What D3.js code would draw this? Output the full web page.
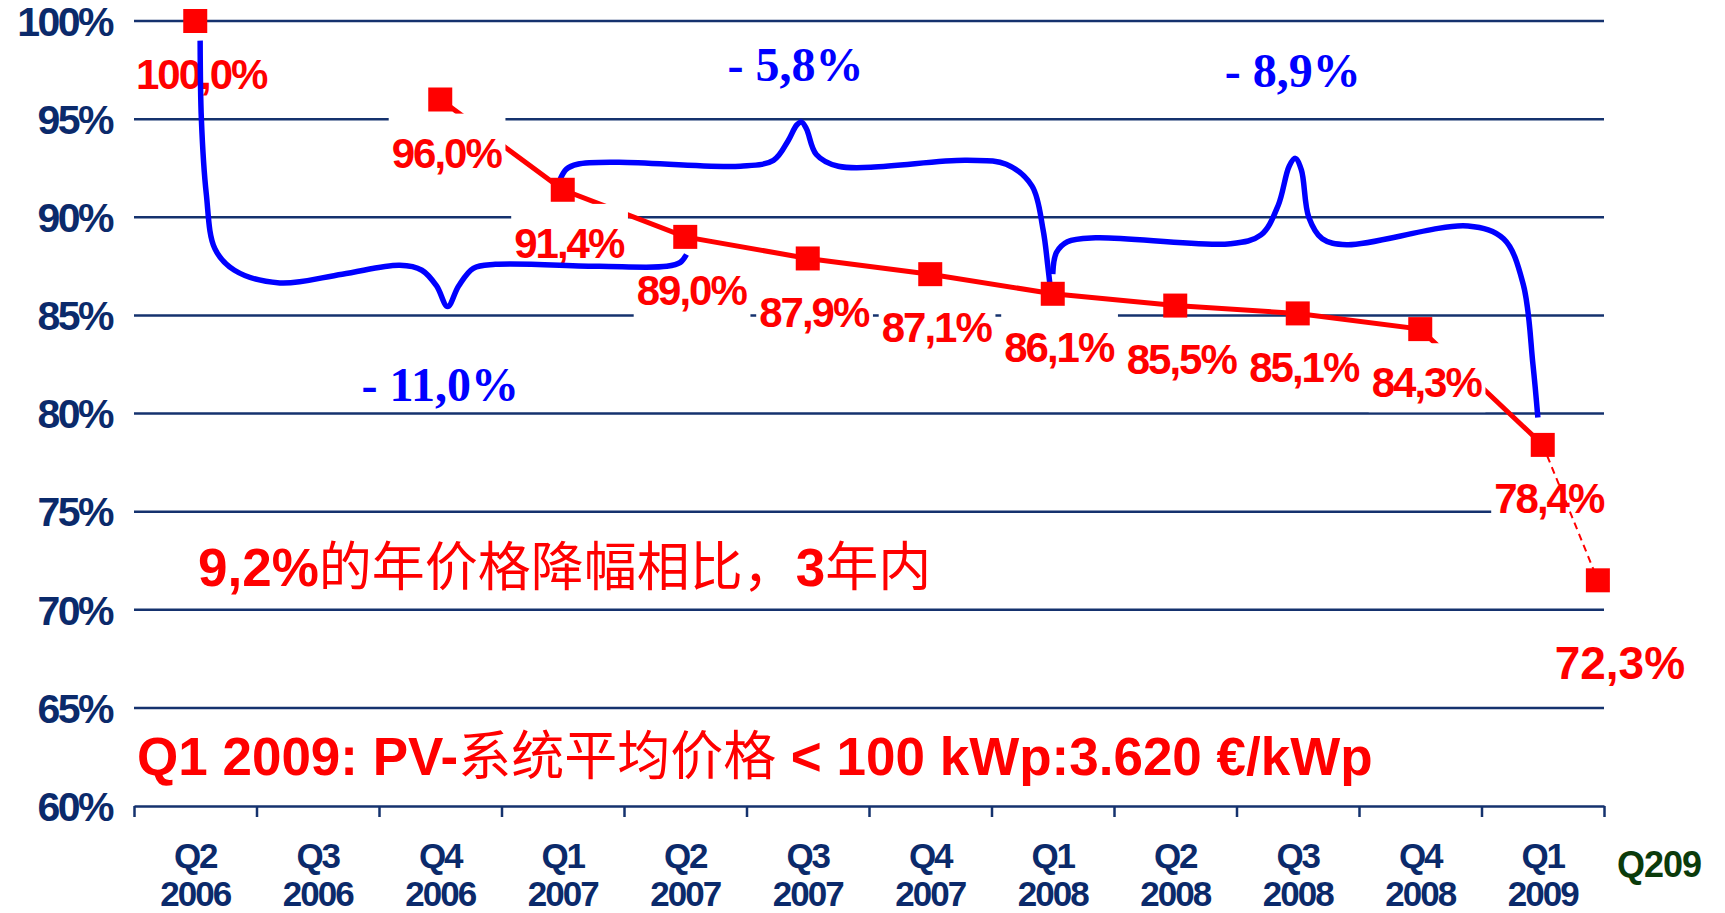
<!DOCTYPE html>
<html>
<head>
<meta charset="utf-8">
<script src="https://cdn.jsdelivr.net/npm/d3@7"></script>
<style>
  body { margin: 0; background: #fff; }
</style>
</head>
<body>
<script>
//chart size
var w = 1725, h = 913;

//categories and values
var quarters = ["Q2", "Q3", "Q4", "Q1", "Q2", "Q3", "Q4", "Q1", "Q2", "Q3", "Q4", "Q1"];
var years = ["2006", "2006", "2006", "2007", "2007", "2007", "2007", "2008", "2008", "2008", "2008", "2009"];
var values = [100, null, 96.0, 91.4, 89.0, 87.9, 87.1, 86.1, 85.5, 85.1, 84.3, 78.4];
var valueLabels = ["100,0%", "", "96,0%", "91,4%", "89,0%", "87,9%", "87,1%", "86,1%", "85,5%", "85,1%", "84,3%", "78,4%"];
//forecast point Q2 2009 (drawn right at the axis end)
var forecastPos = 11.45, forecastValue = 71.5, forecastLabel = "72,3%", forecastName = "Q209";
var yTicks = [60, 65, 70, 75, 80, 85, 90, 95, 100];

//braces, in (category index, percent) space
var brace1 = [[0.04,99.0],[0.05,95],[0.09,91.2],[0.16,88.4],[0.32,87.3],[0.69,86.65],[1.2,87.1],[1.67,87.55],[1.85,87.3],[1.97,86.5],[2.06,85.45],[2.15,86.5],[2.27,87.4],[2.45,87.6],[3.3,87.5],[3.85,87.5],[3.96,87.7],[4.01,88.1]];
var brace2 = [[2.98,91.95],[3.03,92.45],[3.12,92.7],[3.45,92.8],[4.45,92.6],[4.72,92.9],[4.84,93.9],[4.91,94.7],[4.95,94.85],[4.99,94.5],[5.07,93.2],[5.25,92.6],[6.3,92.9],[6.62,92.7],[6.83,91.6],[6.92,89.4],[6.96,87.5],[6.98,86.4]];
var brace3 = [[7.0,87.1],[7.03,88.2],[7.12,88.75],[7.35,88.95],[8.45,88.65],[8.7,89.1],[8.84,90.6],[8.93,92.6],[8.98,93.0],[9.03,92.4],[9.09,90.0],[9.2,88.9],[9.4,88.6],[10.39,89.55],[10.68,88.9],[10.84,86.6],[10.92,82.5],[10.96,79.8]];
var braceLabels = [
    {text: "- 11,0%", pos: 2.0, val: 81.5},
    {text: "- 5,8%", pos: 4.9, val: 97.8},
    {text: "- 8,9%", pos: 8.96, val: 97.5}
];

var navy = "#0b2a6b", red = "#ff0000", blue = "#0000ff";
var latin = "'Liberation Sans', Arial, sans-serif";
var cjk = "'Noto Sans CJK SC', sans-serif";

window.onload = function(){

    var svg = d3.select("body")
        .append("svg")
        .attr("width", w)
        .attr("height", h);

    var x = d3.scaleLinear().domain([-0.5, 11.5]).range([134, 1604]);
    var y = d3.scaleLinear().domain([60, 100]).range([806, 21]);

    //gridlines
    svg.append("g")
        .selectAll("line")
        .data(yTicks.slice(1))
        .enter()
        .append("line")
        .attr("x1", x(-0.5))
        .attr("x2", x(11.5))
        .attr("y1", function(d){ return y(d); })
        .attr("y2", function(d){ return y(d); })
        .style("stroke", "#15326e")
        .style("stroke-width", 2.5);

    //y labels
    svg.append("g")
        .selectAll("text")
        .data(yTicks)
        .enter()
        .append("text")
        .attr("x", 112)
        .attr("y", function(d){ return y(d); })
        .attr("dy", "0.36em")
        .attr("text-anchor", "end")
        .style("font-family", latin)
        .style("font-weight", "bold")
        .style("font-size", "41px")
        .style("letter-spacing", "-2.5px")
        .style("fill", navy)
        .text(function(d){ return d + "%"; });

    //x axis with ticks between categories
    var xAxis = d3.axisBottom(x)
        .tickValues(d3.range(-0.5, 12, 1))
        .tickSize(11)
        .tickSizeOuter(0)
        .tickFormat("");
    var ax = svg.append("g")
        .attr("transform", "translate(0," + y(60) + ")")
        .call(xAxis);
    ax.selectAll("path, line").style("stroke", "#15326e").style("stroke-width", 2.5);

    var xl = svg.append("g")
        .selectAll("g")
        .data(quarters)
        .enter()
        .append("text")
        .attr("text-anchor", "middle")
        .style("font-family", latin)
        .style("font-weight", "bold")
        .style("font-size", "35px")
        .style("letter-spacing", "-2px")
        .style("fill", navy);
    xl.append("tspan")
        .attr("x", function(d, i){ return x(i); })
        .attr("y", 868)
        .text(function(d){ return d; });
    xl.append("tspan")
        .attr("x", function(d, i){ return x(i); })
        .attr("y", 906)
        .text(function(d, i){ return years[i]; });

    svg.append("text")
        .attr("x", 1659)
        .attr("y", 877)
        .attr("text-anchor", "middle")
        .style("font-family", latin)
        .style("font-weight", "bold")
        .style("font-size", "36px")
        .style("letter-spacing", "-1px")
        .style("fill", "#0b3b0b")
        .text(forecastName);

    //red price line
    var pts = values.map(function(v, i){ return {i: i, v: v, label: valueLabels[i]}; });
    var line = d3.line()
        .defined(function(d){ return d.v != null; })
        .x(function(d){ return x(d.i); })
        .y(function(d){ return y(d.v); });
    svg.append("path")
        .datum(pts.slice(1))
        .attr("d", line)
        .style("fill", "none")
        .style("stroke", red)
        .style("stroke-width", 5);

    //value labels with white boxes
    var labelData = pts.filter(function(d){ return d.v != null; });
    var lg = svg.append("g");
    labelData.forEach(function(d){
        var t = lg.append("text")
            .attr("x", x(d.i) + 6)
            .attr("y", y(d.v) + 53)
            .attr("dy", "0.36em")
            .attr("text-anchor", "middle")
            .style("font-family", latin)
            .style("font-weight", "bold")
            .style("font-size", "42px")
            .style("letter-spacing", "-2px")
            .style("fill", red)
            .text(d.label);
        var b = t.node().getBBox();
        lg.insert("rect", function(){ return t.node(); })
            .attr("x", b.x - 3)
            .attr("y", b.y - 16)
            .attr("width", b.width + 6)
            .attr("height", b.height + 22)
            .style("fill", "#fff");
    });
    var fc = {i: forecastPos, v: forecastValue, label: forecastLabel};
    lg.append("text")
        .attr("x", x(fc.i) + 22)
        .attr("y", y(fc.v) + 82)
        .attr("dy", "0.36em")
        .attr("text-anchor", "middle")
        .style("font-family", latin)
        .style("font-weight", "bold")
        .style("font-size", "46px")
        .style("fill", red)
        .text(fc.label);

    //dashed forecast segment, over the labels
    svg.append("path")
        .datum([pts[11], fc])
        .attr("d", line)
        .style("fill", "none")
        .style("stroke", red)
        .style("stroke-width", 2)
        .style("stroke-dasharray", "7,5");

    //blue braces
    var braceLine = d3.line()
        .curve(d3.curveCatmullRom.alpha(0.5))
        .x(function(d){ return x(d[0]); })
        .y(function(d){ return y(d[1]); });
    svg.append("g")
        .selectAll("path")
        .data([brace1, brace2, brace3])
        .enter()
        .append("path")
        .attr("d", braceLine)
        .style("fill", "none")
        .style("stroke", blue)
        .style("stroke-width", 5.5)
        .style("stroke-linecap", "butt");

    svg.append("g")
        .selectAll("text")
        .data(braceLabels)
        .enter()
        .append("text")
        .attr("x", function(d){ return x(d.pos); })
        .attr("y", function(d){ return y(d.val); })
        .attr("dy", "0.35em")
        .attr("text-anchor", "middle")
        .style("font-family", "'Liberation Serif', 'Times New Roman', serif")
        .style("font-weight", "bold")
        .style("font-size", "48px")
        .style("fill", blue)
        .text(function(d){ return d.text; });

    //square markers
    var sq = 24;
    svg.append("g")
        .selectAll("rect")
        .data(labelData.concat([fc]))
        .enter()
        .append("rect")
        .attr("x", function(d){ return x(d.i) - sq / 2; })
        .attr("y", function(d){ return y(d.v) - sq / 2; })
        .attr("width", sq)
        .attr("height", sq)
        .style("fill", red);

    //annotations
    var a1 = svg.append("text")
        .attr("x", 198)
        .attr("y", 567)
        .attr("dy", "0.36em")
        .style("font-size", "53px")
        .style("fill", red);
    a1.append("tspan").style("font-family", latin).style("font-weight", "bold").text("9,2%");
    a1.append("tspan").style("font-family", cjk).text("的年价格降幅相比，");
    a1.append("tspan").style("font-family", latin).style("font-weight", "bold").text("3");
    a1.append("tspan").style("font-family", cjk).text("年内");

    var a2 = svg.append("text")
        .attr("x", 137)
        .attr("y", 756)
        .attr("dy", "0.36em")
        .style("font-size", "53px")
        .style("fill", red);
    a2.append("tspan").style("font-family", latin).style("font-weight", "bold").text("Q1 2009: PV-");
    a2.append("tspan").style("font-family", cjk).text("系统平均价格");
    a2.append("tspan").style("font-family", latin).style("font-weight", "bold").text(" < 100 kWp:3.620 €/kWp");
};
</script>
</body>
</html>
